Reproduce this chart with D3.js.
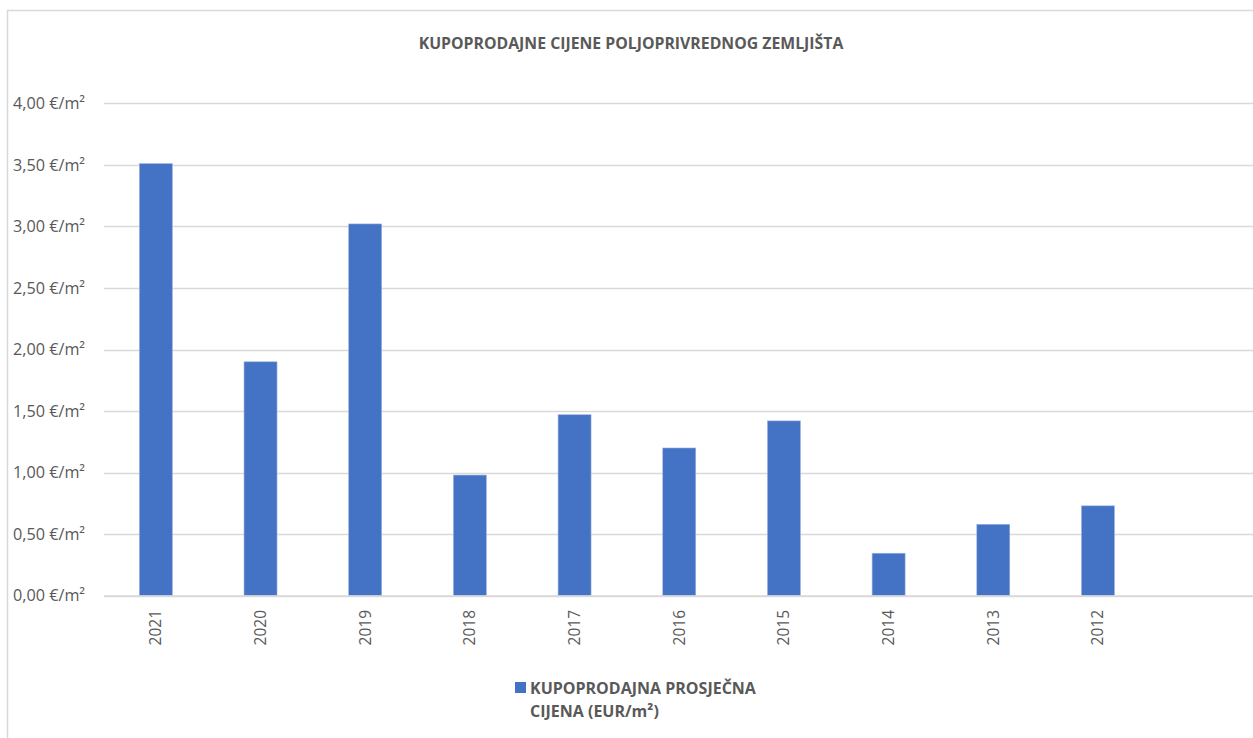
<!DOCTYPE html>
<html><head><meta charset="utf-8">
<script src="https://cdn.jsdelivr.net/npm/d3@7"></script>
<style>body{margin:0;background:#fff}svg{display:block}</style>
</head><body><svg id="c" width="1253" height="738"></svg>
<script>
const categories = ["2021","2020","2019","2018","2017","2016","2015","2014","2013","2012",""];
const values = [3.51,1.90,3.02,0.98,1.47,1.20,1.42,0.345,0.58,0.73,null];
const yTicks = [0,0.5,1,1.5,2,2.5,3,3.5,4];
const title = "KUPOPRODAJNE CIJENE POLJOPRIVREDNOG ZEMLJIŠTA";
const legendLines = ["KUPOPRODAJNA PROSJEČNA","CIJENA (EUR/m²)"];

const svg = d3.select("#c");
const font = "'Open Sans', 'Liberation Sans', sans-serif";
svg.append("rect").attr("x",7.5).attr("y",10.5).attr("width",1260).attr("height",740)
  .attr("fill","#fff").attr("stroke","#d9d9d9").attr("stroke-width",1.5);

const x = d3.scaleBand().domain(categories.map((d,i)=>i)).range([103.5,1255]).paddingInner(0.685).paddingOuter(0.3425);
const y = d3.scaleLinear().domain([0,4]).range([595.7,103.3]);

const fmt = v => d3.format(".2f")(v).replace(".",",") + " €/m²";

svg.append("g").selectAll("line").data(yTicks).join("line")
  .attr("x1",104).attr("x2",1255).attr("y1",d=>Math.round(y(d))+0.5).attr("y2",d=>Math.round(y(d))+0.5)
  .attr("stroke","#d9d9d9").attr("stroke-width",1.5);

svg.append("g").selectAll("text").data(yTicks).join("text")
  .attr("x",85).attr("y",d=>y(d)).attr("dy","0.35em").attr("text-anchor","end")
  .attr("font-family",font).attr("font-size",16.2).attr("fill","#595959").text(fmt);

const band = x.bandwidth();
svg.append("g").selectAll("rect").data(values.map((v,i)=>({v,i})).filter(d=>d.v!=null)).join("rect")
  .attr("x",d=>x(d.i)).attr("width",band)
  .attr("y",d=>y(d.v)).attr("height",d=>y(0)-y(d.v))
  .attr("fill","#4472c4").attr("stroke","#9bb3e0").attr("stroke-width",0.6);

svg.append("line").attr("x1",104).attr("x2",1255).attr("y1",596).attr("y2",596).attr("stroke","#d9d9d9").attr("stroke-width",1.5);

svg.append("g").selectAll("text").data(categories.map((c,i)=>({c,i}))).join("text")
  .attr("transform",d=>`translate(${x(d.i)+band/2+5.5},610) rotate(-90)`)
  .attr("text-anchor","end").attr("font-family",font).attr("font-size",15.5).attr("fill","#595959")
  .text(d=>d.c);

svg.append("text").attr("x",631).attr("y",49).attr("text-anchor","middle")
  .attr("font-family",font).attr("font-size",15.8).attr("font-weight","bold").attr("fill","#595959").text(title);

svg.append("rect").attr("x",515).attr("y",682).attr("width",11).attr("height",11).attr("fill","#4472c4");
svg.append("g").selectAll("text").data(legendLines).join("text")
  .attr("x",530).attr("y",(d,i)=>694+i*23).attr("font-family",font).attr("font-size",16)
  .attr("font-weight","bold").attr("fill","#595959").text(d=>d);
</script></body></html>
